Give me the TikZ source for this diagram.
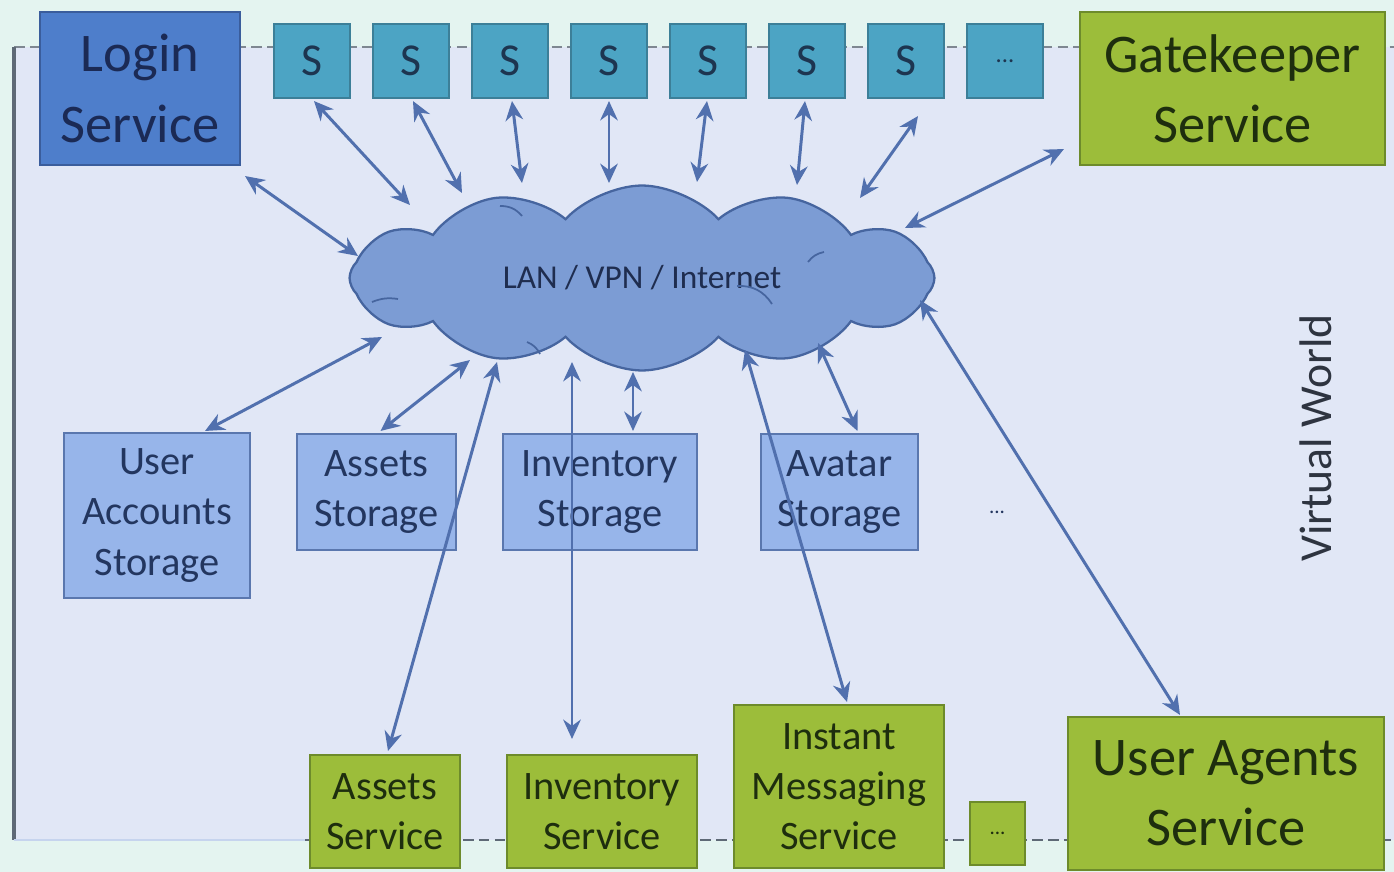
\documentclass[tikz,border=0pt]{standalone}
\usepackage{fontspec}
\setmainfont{Carlito}
\usetikzlibrary{shapes.symbols,arrows.meta,calc}

\definecolor{mint}{HTML}{E4F4F0}
\definecolor{lav}{HTML}{E1E7F6}
\definecolor{loginfill}{HTML}{4E7ECB}
\definecolor{loginline}{HTML}{3A5D9C}
\definecolor{logintext}{HTML}{1B2A55}
\definecolor{sfill}{HTML}{4CA4C4}
\definecolor{sline}{HTML}{3C7F98}
\definecolor{stext}{HTML}{1D3550}
\definecolor{gfill}{HTML}{9CBD3A}
\definecolor{gline}{HTML}{6D8B2B}
\definecolor{gtext}{HTML}{1E2E0E}
\definecolor{bfill}{HTML}{97B5EA}
\definecolor{bline}{HTML}{5A77AE}
\definecolor{btext}{HTML}{23365F}
\definecolor{cfill}{HTML}{7C9CD4}
\definecolor{cline}{HTML}{46659F}
\definecolor{ctext}{HTML}{1F2D4F}
\definecolor{arr}{HTML}{5170AE}
\definecolor{framecol}{HTML}{5E6976}
\definecolor{lowline}{HTML}{C6D4EE}
\definecolor{vwtext}{HTML}{2E3440}

\tikzset{
  bigfont/.style={font=\fontsize{31}{40}\selectfont},
  midfont/.style={font=\fontsize{23}{28.5}\selectfont},
  box/.style={rectangle, line width=1.2pt, inner sep=0pt, align=center},
  loginbox/.style={box, draw=loginline, fill=loginfill, text=logintext},
  sbox/.style={box, draw=sline, fill=sfill, text=stext,
    minimum width=1.52cm, minimum height=1.48cm, font=\fontsize{26}{30}\selectfont},
  greenbox/.style={box, draw=gline, fill=gfill, text=gtext},
  storebox/.style={box, draw=bline, fill=bfill, text=btext, midfont},
  link/.style={draw=arr, line width=1.7pt,
    {Stealth[length=11pt,width=10pt]}-{Stealth[length=11pt,width=10pt]}},
  puff/.style={draw=cline, line width=1pt},
}

\begin{document}
\begin{tikzpicture}[x=0.02cm, y=-0.02cm]
  % canvas and the virtual world frame
  \path[use as bounding box, fill=mint] (0,0) rectangle (1394,872);
  \fill[lav] (14,47) rectangle (1394,840);
  \draw[framecol!80, line width=1pt, dash pattern=on 6pt off 3pt] (14,47) -- (1394,47);
  \draw[framecol, line width=2pt] (14,47) -- (14,840);
  \draw[lowline, line width=1.4pt] (14,840) -- (305,840);
  \draw[framecol, line width=1.2pt, dash pattern=on 6pt off 3pt] (305,840) -- (1394,840);

  % top row
  \node[loginbox, bigfont, minimum width=4cm, minimum height=3.06cm] (login) at (140,88.5) {Login\\Service};
  \foreach \i in {1,...,7} {
    \node[sbox] (s\i) at ({312+99*(\i-1)},61) {S};
  }
  \node[sbox, font=\fontsize{14}{16}\selectfont] (sdots) at (1005,61) {...};
  \node[greenbox, bigfont, minimum width=6.1cm, minimum height=3.06cm] (gate) at (1232.5,88.5) {Gatekeeper\\Service};

  % network cloud
  \node[cloud, cloud puffs=12, cloud puff arc=95, cloud ignores aspect,
        minimum width=11.7cm, minimum height=3.7cm,
        draw=cline, fill=cfill, line width=1.3pt, text=ctext,
        font=\fontsize{19}{22}\selectfont] (net) at (642,278) {LAN / VPN / Internet};
  \draw[puff] (372,302) to[bend left=15] (398,299);
  \draw[puff] (500,206) to[bend left=25] (522,216);
  \draw[puff] (808,262) to[bend left=20] (824,252);
  \draw[puff] (737,286) to[bend left=30] (772,304);
  \draw[puff] (527,342) to[bend left=20] (540,354);

  % storage row
  \node[storebox, minimum width=3.72cm, minimum height=3.3cm] (uas) at (157,515.5) {User\\Accounts\\Storage};
  \node[storebox, minimum width=3.18cm, minimum height=2.32cm] (ast) at (376.5,492) {Assets\\Storage};
  \node[storebox, minimum width=3.88cm, minimum height=2.32cm] (invs) at (600,492) {Inventory\\Storage};
  \node[storebox, minimum width=3.14cm, minimum height=2.32cm] (avs) at (839.5,492) {Avatar\\Storage};
  \node[text=btext, font=\fontsize{12}{14}\selectfont] (stdots) at (997,512) {...};

  % service row
  \node[greenbox, midfont, minimum width=3cm, minimum height=2.26cm] (asv) at (385,811.5) {Assets\\Service};
  \node[greenbox, midfont, minimum width=3.8cm, minimum height=2.26cm] (isv) at (602,811.5) {Inventory\\Service};
  \node[greenbox, midfont, minimum width=4.2cm, minimum height=3.26cm] (imsv) at (839,786.5) {Instant\\Messaging\\Service};
  \node[greenbox, minimum width=1.1cm, minimum height=1.26cm, font=\fontsize{12}{14}\selectfont] (svdots) at (997.5,833.5) {...};
  \node[greenbox, bigfont, minimum width=6.32cm, minimum height=3.06cm] (uasv) at (1226,793.5) {User Agents\\Service};

  \node[rotate=90, text=vwtext, font=\fontsize{26}{30}\selectfont] (vw) at (1316,438) {Virtual World};

  % contact points on the cloud
  \coordinate (n0) at (358,256);
  \coordinate (n1) at (410,205);
  \coordinate (n2) at (462,193);
  \coordinate (n3) at (522,183);
  \coordinate (n4) at (609,183);
  \coordinate (n5) at (697,182);
  \coordinate (n6) at (797,185);
  \coordinate (n7) at (860,198);
  \coordinate (n8) at (905,228);
  \coordinate (m1) at (382,337);
  \coordinate (m2) at (470,360);
  \coordinate (m3) at (633,372);
  \coordinate (m4) at (818,343);
  \coordinate (m5) at (497,362);
  \coordinate (m6) at (572,362);
  \coordinate (m7) at (745,350);
  \coordinate (m8) at (920,300);

  % links
  \draw[link] ($(login.south east)+(4,10)$) -- (n0);
  \draw[link] ($(s1.south)+(2,2)$) -- (n1);
  \draw[link] ($(s2.south)+(2,2)$) -- (n2);
  \draw[link] ($(s3.south)+(2,2)$) -- (n3);
  \draw[link] ($(s4.south)+(0,2)$) -- (n4);
  \draw[link] ($(s5.south)+(-1,2)$) -- (n5);
  \draw[link] ($(s6.south)+(-2,2)$) -- (n6);
  \draw[link] ($(s7.south)+(12,17)$) -- (n7);
  \draw[link] ($(gate.south west)+(-15,-17)$) -- (n8);
  \draw[link] ($(uas.north)+(48,-1)$) -- (m1);
  \draw[link] ($(ast.north)+(4,-2)$) -- (m2);
  \draw[link] ($(invs.north)+(33,-2)$) -- (m3);
  \draw[link] ($(avs.north)+(18,-2)$) -- (m4);
  \draw[link] ($(asv.north)+(3,-3)$) -- (m5);
  \draw[link] ($(isv.north)+(-30,-15)$) -- (m6);
  \draw[link] ($(imsv.north)+(8,-2)$) -- (m7);
  \draw[link] ($(uasv.north)+(-46,-1)$) -- (m8);
\end{tikzpicture}
\end{document}
